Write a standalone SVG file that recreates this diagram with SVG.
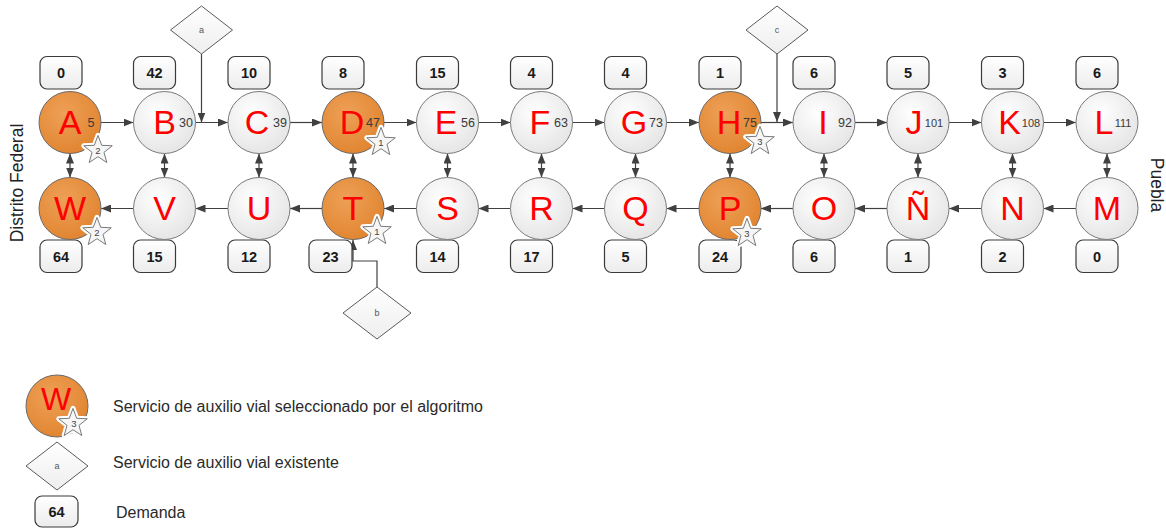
<svg xmlns="http://www.w3.org/2000/svg" xmlns:xlink="http://www.w3.org/1999/xlink" width="1166" height="529" viewBox="0 0 1166 529">
<defs>
  <radialGradient id="gGray" cx="40%" cy="35%" r="70%">
    <stop offset="0" stop-color="#ffffff"/>
    <stop offset="1" stop-color="#e4e4e4"/>
  </radialGradient>
  <radialGradient id="gOrange" cx="40%" cy="35%" r="70%">
    <stop offset="0" stop-color="#eea057"/>
    <stop offset="1" stop-color="#e0842f"/>
  </radialGradient>
  <linearGradient id="gBox" x1="0" y1="0" x2="0" y2="1">
    <stop offset="0" stop-color="#ffffff"/>
    <stop offset="1" stop-color="#ececec"/>
  </linearGradient>
  <linearGradient id="gDia" x1="0" y1="0" x2="0" y2="1">
    <stop offset="0" stop-color="#ffffff"/>
    <stop offset="1" stop-color="#eeeeee"/>
  </linearGradient>
  <marker id="ah" markerUnits="userSpaceOnUse" markerWidth="10" markerHeight="8" refX="10" refY="4" orient="auto-start-reverse">
    <path d="M0,0 L10,4 L0,8 Z" fill="#404040"/>
  </marker>
  <path id="star" d="M0,-15 L3.7,-5.1 L14.27,-4.64 L5.99,1.95 L8.82,12.14 L0,6.3 L-8.82,12.14 L-5.99,1.95 L-14.27,-4.64 L-3.7,-5.1 Z"/>
  <style>
    .nd{fill:url(#gGray);stroke:#7a7a7a;stroke-width:1}
    .sel{fill:url(#gOrange);stroke:#6a6a6a;stroke-width:1}
    .ltr{font-family:"Liberation Sans",Arial,sans-serif;font-size:34px;fill:#ff0000;text-anchor:middle}
    .num{font-family:"Liberation Sans",Arial,sans-serif;font-size:12.5px;fill:#3a3a3a;text-anchor:middle}
    .num3{font-family:"Liberation Sans",Arial,sans-serif;font-size:11px;fill:#3a3a3a;text-anchor:middle}
    .box{fill:url(#gBox);stroke:#3a3a3a;stroke-width:1.2}
    .bt{font-family:"Liberation Sans",Arial,sans-serif;font-size:14.5px;font-weight:bold;fill:#1a1a1a;text-anchor:middle}
    .conn line,.conn polyline{stroke:#404040;stroke-width:1.2;fill:none}
    .dia{fill:url(#gDia);stroke:#5a5a5a;stroke-width:1}
    .dt{font-family:"Liberation Sans",Arial,sans-serif;font-size:9px;fill:#555;text-anchor:middle}
    .halo{fill:#ffffff;stroke:#ffffff;stroke-width:5;stroke-linejoin:round}
    .st{fill:#f6f6f6;stroke:#7a7a7a;stroke-width:1;stroke-linejoin:round}
    .stn{font-family:"Liberation Sans",Arial,sans-serif;font-size:9.5px;fill:#444;text-anchor:middle}
    .side{font-family:"Liberation Sans",Arial,sans-serif;font-size:17.5px;fill:#222;text-anchor:middle}
    .leg{font-family:"Liberation Sans",Arial,sans-serif;font-size:16px;fill:#2a2a2a}
  </style>
</defs>
<rect width="1166" height="529" fill="#ffffff"/>

<g id="connectors" class="conn">
  <line x1="101" y1="122.5" x2="133.5" y2="122.5" marker-end="url(#ah)"/>
  <line x1="195.5" y1="122.5" x2="228" y2="122.5" marker-end="url(#ah)"/>
  <line x1="290" y1="122.5" x2="322" y2="122.5" marker-end="url(#ah)"/>
  <line x1="384" y1="122.5" x2="416.5" y2="122.5" marker-end="url(#ah)"/>
  <line x1="478.5" y1="122.5" x2="510.5" y2="122.5" marker-end="url(#ah)"/>
  <line x1="572.5" y1="122.5" x2="604.5" y2="122.5" marker-end="url(#ah)"/>
  <line x1="666.5" y1="122.5" x2="699" y2="122.5" marker-end="url(#ah)"/>
  <line x1="761" y1="122.5" x2="793" y2="122.5" marker-end="url(#ah)"/>
  <line x1="855" y1="122.5" x2="887" y2="122.5" marker-end="url(#ah)"/>
  <line x1="949" y1="122.5" x2="981.5" y2="122.5" marker-end="url(#ah)"/>
  <line x1="1043.5" y1="122.5" x2="1076" y2="122.5" marker-end="url(#ah)"/>
  <line x1="133.5" y1="208.5" x2="101" y2="208.5" marker-end="url(#ah)"/>
  <line x1="228" y1="208.5" x2="195.5" y2="208.5" marker-end="url(#ah)"/>
  <line x1="322" y1="208.5" x2="290" y2="208.5" marker-end="url(#ah)"/>
  <line x1="416.5" y1="208.5" x2="384" y2="208.5" marker-end="url(#ah)"/>
  <line x1="510.5" y1="208.5" x2="478.5" y2="208.5" marker-end="url(#ah)"/>
  <line x1="604.5" y1="208.5" x2="572.5" y2="208.5" marker-end="url(#ah)"/>
  <line x1="699" y1="208.5" x2="666.5" y2="208.5" marker-end="url(#ah)"/>
  <line x1="793" y1="208.5" x2="761" y2="208.5" marker-end="url(#ah)"/>
  <line x1="887" y1="208.5" x2="855" y2="208.5" marker-end="url(#ah)"/>
  <line x1="981.5" y1="208.5" x2="949" y2="208.5" marker-end="url(#ah)"/>
  <line x1="1076" y1="208.5" x2="1043.5" y2="208.5" marker-end="url(#ah)"/>
  <line x1="70" y1="153.5" x2="70" y2="177.5" marker-start="url(#ah)" marker-end="url(#ah)"/>
  <line x1="164.5" y1="153.5" x2="164.5" y2="177.5" marker-start="url(#ah)" marker-end="url(#ah)"/>
  <line x1="259" y1="153.5" x2="259" y2="177.5" marker-start="url(#ah)" marker-end="url(#ah)"/>
  <line x1="353" y1="153.5" x2="353" y2="177.5" marker-start="url(#ah)" marker-end="url(#ah)"/>
  <line x1="447.5" y1="153.5" x2="447.5" y2="177.5" marker-start="url(#ah)" marker-end="url(#ah)"/>
  <line x1="541.5" y1="153.5" x2="541.5" y2="177.5" marker-start="url(#ah)" marker-end="url(#ah)"/>
  <line x1="635.5" y1="153.5" x2="635.5" y2="177.5" marker-start="url(#ah)" marker-end="url(#ah)"/>
  <line x1="730" y1="153.5" x2="730" y2="177.5" marker-start="url(#ah)" marker-end="url(#ah)"/>
  <line x1="824" y1="153.5" x2="824" y2="177.5" marker-start="url(#ah)" marker-end="url(#ah)"/>
  <line x1="918" y1="153.5" x2="918" y2="177.5" marker-start="url(#ah)" marker-end="url(#ah)"/>
  <line x1="1012.5" y1="153.5" x2="1012.5" y2="177.5" marker-start="url(#ah)" marker-end="url(#ah)"/>
  <line x1="1107" y1="153.5" x2="1107" y2="177.5" marker-start="url(#ah)" marker-end="url(#ah)"/>
  <line x1="201.5" y1="54" x2="201.5" y2="122.5" marker-end="url(#ah)"/>
  <line x1="777" y1="54" x2="777" y2="122" marker-end="url(#ah)"/>
  <polyline points="377,287 377,261 353,261 353,240" marker-end="url(#ah)"/>
</g>

<g id="demands">
  <rect class="box" x="40" y="56.5" width="42" height="32.5" rx="7"/><text class="bt" x="61" y="78">0</text>
  <rect class="box" x="133.5" y="56.5" width="42" height="32.5" rx="7"/><text class="bt" x="154.5" y="78">42</text>
  <rect class="box" x="228" y="56.5" width="42" height="32.5" rx="7"/><text class="bt" x="249" y="78">10</text>
  <rect class="box" x="322" y="56.5" width="42" height="32.5" rx="7"/><text class="bt" x="343" y="78">8</text>
  <rect class="box" x="416.5" y="56.5" width="42" height="32.5" rx="7"/><text class="bt" x="437.5" y="78">15</text>
  <rect class="box" x="510.5" y="56.5" width="42" height="32.5" rx="7"/><text class="bt" x="531.5" y="78">4</text>
  <rect class="box" x="604.5" y="56.5" width="42" height="32.5" rx="7"/><text class="bt" x="625.5" y="78">4</text>
  <rect class="box" x="699" y="56.5" width="42" height="32.5" rx="7"/><text class="bt" x="720" y="78">1</text>
  <rect class="box" x="793" y="56.5" width="42" height="32.5" rx="7"/><text class="bt" x="814" y="78">6</text>
  <rect class="box" x="887" y="56.5" width="42" height="32.5" rx="7"/><text class="bt" x="908" y="78">5</text>
  <rect class="box" x="981.5" y="56.5" width="42" height="32.5" rx="7"/><text class="bt" x="1002.5" y="78">3</text>
  <rect class="box" x="1076" y="56.5" width="42" height="32.5" rx="7"/><text class="bt" x="1097" y="78">6</text>

  <rect class="box" x="40" y="240" width="42" height="32.5" rx="7"/><text class="bt" x="61" y="261.5">64</text>
  <rect class="box" x="133.5" y="240" width="42" height="32.5" rx="7"/><text class="bt" x="154.5" y="261.5">15</text>
  <rect class="box" x="228" y="240" width="42" height="32.5" rx="7"/><text class="bt" x="249" y="261.5">12</text>
  <rect class="box" x="309" y="240" width="43" height="32.5" rx="7"/><text class="bt" x="330.5" y="261.5">23</text>
  <rect class="box" x="416.5" y="240" width="42" height="32.5" rx="7"/><text class="bt" x="437.5" y="261.5">14</text>
  <rect class="box" x="510.5" y="240" width="42" height="32.5" rx="7"/><text class="bt" x="531.5" y="261.5">17</text>
  <rect class="box" x="604.5" y="240" width="42" height="32.5" rx="7"/><text class="bt" x="625.5" y="261.5">5</text>
  <rect class="box" x="699" y="240" width="42" height="32.5" rx="7"/><text class="bt" x="720" y="261.5">24</text>
  <rect class="box" x="793" y="240" width="42" height="32.5" rx="7"/><text class="bt" x="814" y="261.5">6</text>
  <rect class="box" x="887" y="240" width="42" height="32.5" rx="7"/><text class="bt" x="908" y="261.5">1</text>
  <rect class="box" x="981.5" y="240" width="42" height="32.5" rx="7"/><text class="bt" x="1002.5" y="261.5">2</text>
  <rect class="box" x="1076" y="240" width="42" height="32.5" rx="7"/><text class="bt" x="1097" y="261.5">0</text>
</g>

<g id="node-A"><circle class="sel" cx="70" cy="122.5" r="31"/><text class="ltr" x="70" y="134">A</text><text class="num" x="91" y="127">5</text>
  <use href="#star" class="halo" x="98" y="150.4"/><use href="#star" class="st" x="98" y="150.4"/><text class="stn" x="98" y="154">2</text></g>
<g id="node-B"><circle class="nd" cx="164.5" cy="122.5" r="31"/><text class="ltr" x="164.5" y="134">B</text><text class="num" x="186" y="127">30</text></g>
<g id="node-C"><circle class="nd" cx="259" cy="122.5" r="31"/><text class="ltr" x="257" y="134">C</text><text class="num" x="280" y="127">39</text></g>
<g id="node-D"><circle class="sel" cx="353" cy="122.5" r="31"/><text class="ltr" x="352" y="134">D</text><text class="num" x="373" y="127">47</text>
  <use href="#star" class="halo" x="381" y="142.4"/><use href="#star" class="st" x="381" y="142.4"/><text class="stn" x="381" y="146">1</text></g>
<g id="node-E"><circle class="nd" cx="447.5" cy="122.5" r="31"/><text class="ltr" x="446" y="134">E</text><text class="num" x="468" y="127">56</text></g>
<g id="node-F"><circle class="nd" cx="541.5" cy="122.5" r="31"/><text class="ltr" x="540" y="134">F</text><text class="num" x="561" y="127">63</text></g>
<g id="node-G"><circle class="nd" cx="635.5" cy="122.5" r="31"/><text class="ltr" x="634" y="134">G</text><text class="num" x="656" y="127">73</text></g>
<g id="node-H"><circle class="sel" cx="730" cy="122.5" r="31"/><text class="ltr" x="729" y="134">H</text><text class="num" x="750" y="127">75</text>
  <use href="#star" class="halo" x="760" y="141.4"/><use href="#star" class="st" x="760" y="141.4"/><text class="stn" x="760" y="145">3</text></g>
<g id="node-I"><circle class="nd" cx="824" cy="122.5" r="31"/><text class="ltr" x="823" y="134">I</text><text class="num" x="845" y="127">92</text></g>
<g id="node-J"><circle class="nd" cx="918" cy="122.5" r="31"/><text class="ltr" x="914" y="134">J</text><text class="num3" x="934" y="127">101</text></g>
<g id="node-K"><circle class="nd" cx="1012.5" cy="122.5" r="31"/><text class="ltr" x="1009.5" y="134">K</text><text class="num3" x="1031" y="127">108</text></g>
<g id="node-L"><circle class="nd" cx="1107" cy="122.5" r="31"/><text class="ltr" x="1104" y="134">L</text><text class="num3" x="1123" y="127">111</text></g>

<g id="node-W"><circle class="sel" cx="70" cy="208.5" r="31"/><text class="ltr" x="70" y="220">W</text>
  <use href="#star" class="halo" x="97" y="232.4"/><use href="#star" class="st" x="97" y="232.4"/><text class="stn" x="97" y="236">2</text></g>
<g id="node-V"><circle class="nd" cx="164.5" cy="208.5" r="31"/><text class="ltr" x="164.5" y="220">V</text></g>
<g id="node-U"><circle class="nd" cx="259" cy="208.5" r="31"/><text class="ltr" x="259" y="220">U</text></g>
<g id="node-T"><circle class="sel" cx="353" cy="208.5" r="31"/><text class="ltr" x="353" y="220">T</text>
  <use href="#star" class="halo" x="377" y="231.4"/><use href="#star" class="st" x="377" y="231.4"/><text class="stn" x="377" y="235">1</text></g>
<g id="node-S"><circle class="nd" cx="447.5" cy="208.5" r="31"/><text class="ltr" x="447.5" y="220">S</text></g>
<g id="node-R"><circle class="nd" cx="541.5" cy="208.5" r="31"/><text class="ltr" x="541.5" y="220">R</text></g>
<g id="node-Q"><circle class="nd" cx="635.5" cy="208.5" r="31"/><text class="ltr" x="635.5" y="220">Q</text></g>
<g id="node-P"><circle class="sel" cx="730" cy="208.5" r="31"/><text class="ltr" x="730" y="220">P</text>
  <use href="#star" class="halo" x="747" y="233.4"/><use href="#star" class="st" x="747" y="233.4"/><text class="stn" x="747" y="237">3</text></g>
<g id="node-O"><circle class="nd" cx="824" cy="208.5" r="31"/><text class="ltr" x="824" y="220">O</text></g>
<g id="node-NN"><circle class="nd" cx="918" cy="208.5" r="31"/><text class="ltr" x="918" y="220">Ñ</text></g>
<g id="node-N"><circle class="nd" cx="1012.5" cy="208.5" r="31"/><text class="ltr" x="1012.5" y="220">N</text></g>
<g id="node-M"><circle class="nd" cx="1107" cy="208.5" r="31"/><text class="ltr" x="1107" y="220">M</text></g>

<g id="service-a"><polygon class="dia" points="201.5,6 232.5,30 201.5,54 170.5,30"/><text class="dt" x="201.5" y="33">a</text></g>
<g id="service-c"><polygon class="dia" points="777,6 808,30 777,54 746,30"/><text class="dt" x="777" y="33">c</text></g>
<g id="service-b"><polygon class="dia" points="377,287 411,313 377,339 343,313"/><text class="dt" x="377" y="316">b</text></g>

<g id="labels">
  <text class="side" transform="translate(22.5,183) rotate(-90)">Distrito Federal</text>
  <text class="side" transform="translate(1150.5,185) rotate(90)">Puebla</text>
</g>

<g id="legend">
  <circle class="sel" cx="57" cy="406" r="31"/><text class="ltr" x="56" y="410" style="font-size:32px">W</text>
  <use href="#star" class="halo" x="73" y="423.4"/><use href="#star" class="st" x="73" y="423.4"/><text class="stn" x="74" y="427">3</text>
  <text class="leg" x="113" y="412">Servicio de auxilio vial seleccionado por el algoritmo</text>
  <polygon class="dia" points="57,442 88,466 57,490 26,466"/><text class="dt" x="57" y="469">a</text>
  <text class="leg" x="113" y="468">Servicio de auxilio vial existente</text>
  <rect class="box" x="35" y="496" width="43" height="31" rx="7"/><text class="bt" x="56.5" y="517">64</text>
  <text class="leg" x="116" y="518">Demanda</text>
</g>
</svg>
